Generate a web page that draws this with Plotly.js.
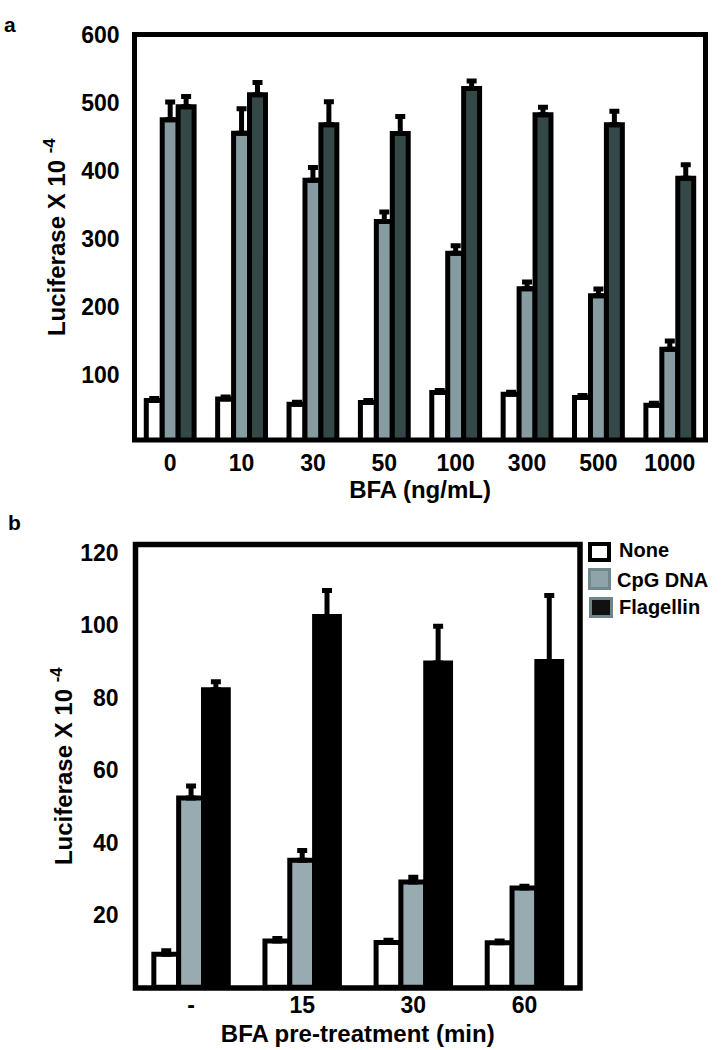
<!DOCTYPE html>
<html>
<head>
<meta charset="utf-8">
<script src="https://cdn.plot.ly/plotly-3.0.1.min.js"></script>
<style>
  html, body { margin: 0; padding: 0; background: #ffffff; }
  #chart { width: 723px; height: 1050px; }
</style>
</head>
<body>
<div id="chart"></div>
<script>
// ---------- Panel a : BFA dose ----------
const catsA = ['0', '10', '30', '50', '100', '300', '500', '1000'];
const noneA = [63, 65, 57.5, 60, 74.7, 72.2, 67.4, 56];
const noneErrA = [3, 3, 3, 3, 3, 3, 3, 3];
const cpgA = [475, 455, 386, 325.6, 279, 226.8, 216.6, 138.2];
const cpgErrA = [26, 36, 19, 14, 11, 10, 10, 12];
const flaA = [494, 511.5, 467.5, 454.7, 520.8, 482.2, 467.5, 389];
const flaErrA = [15, 18, 34, 25, 11, 11, 20, 20];
const zerosA = [0, 0, 0, 0, 0, 0, 0, 0];
const yTicksA = [100, 200, 300, 400, 500, 600];

// ---------- Panel b : BFA pre-treatment ----------
const catsB = ['-', '15', '30', '60'];
const noneB = [9.1, 12.8, 12.4, 12.3];
const noneErrB = [1.0, 0.7, 0.6, 0.5];
const cpgB = [52.3, 35.1, 29.1, 27.4];
const cpgErrB = [3.3, 2.7, 1.3, 0.5];
const flaB = [82.2, 102.4, 89.6, 90.0];
const flaErrB = [2.2, 7.2, 10.1, 18.2];
const zerosB = [0, 0, 0, 0];
const yTicksB = [20, 40, 60, 80, 100, 120];

const legendNames = ['None', 'CpG DNA', 'Flagellin'];

const FAM = 'Liberation Sans, Arial, Helvetica, sans-serif';
const W = 723, H = 1050;
const px = v => v / W;
const py = v => 1 - v / H;

function bar(x, y, err, minus, fill, lineColor, lw, xa, ya, name) {
  return {
    type: 'bar', x: x, y: y, name: name, xaxis: xa, yaxis: ya,
    marker: { color: fill, line: { color: lineColor, width: lw } },
    error_y: { type: 'data', array: err, arrayminus: minus, symmetric: false,
               color: '#000', thickness: 5, width: 5 },
    showlegend: false, hoverinfo: 'skip'
  };
}

const traces = [
  bar(catsA, noneA, noneErrA, zerosA, '#ffffff', '#000', 5, 'x', 'y', legendNames[0]),
  bar(catsA, cpgA, cpgErrA, zerosA, '#869ca1', '#000', 5, 'x', 'y', legendNames[1]),
  bar(catsA, flaA, flaErrA, zerosA, '#354848', '#000', 5, 'x', 'y', legendNames[2]),
  bar(catsB, noneB, noneErrB, zerosB, '#ffffff', '#000', 5, 'x2', 'y2', legendNames[0]),
  bar(catsB, cpgB, cpgErrB, zerosB, '#97abb0', '#000', 5, 'x2', 'y2', legendNames[1]),
  bar(catsB, flaB, flaErrB, zerosB, '#000000', '#000', 5, 'x2', 'y2', legendNames[2])
];

const tickFont = { family: FAM, size: 23, weight: 'bold', color: '#000' };
const xTitleFont = { family: FAM, size: 24, weight: 'bold', color: '#000' };
const yTitleFont = { family: FAM, size: 24, weight: 'bold', color: '#000' };

const baseAxis = { showgrid: false, zeroline: false, showline: false, ticks: '',
                   automargin: false, fixedrange: true, tickfont: tickFont };

const layout = {
  width: W, height: H,
  margin: { l: 0, r: 0, t: 0, b: 0 },
  paper_bgcolor: '#ffffff', plot_bgcolor: '#ffffff',
  showlegend: false,
  barmode: 'group', bargap: 0.33, bargroupgap: 0,
  font: { family: FAM, color: '#000' },
  xaxis: Object.assign({}, baseAxis, {
    domain: [px(134.5), px(705.5)], anchor: 'y', type: 'category',
    range: [-0.5, 7.5], ticklabelstandoff: 7,
    title: { text: 'BFA (ng/mL)', font: xTitleFont, standoff: 6 }
  }),
  yaxis: Object.assign({}, baseAxis, {
    domain: [py(440), py(34.5)], anchor: 'x', range: [5, 600],
    tickmode: 'array', tickvals: yTicksA, ticktext: yTicksA.map(String),
    ticklabelstandoff: 14,
    title: { text: 'Luciferase X 10 <sup>-4</sup>', font: yTitleFont, standoff: 8 }
  }),
  xaxis2: Object.assign({}, baseAxis, {
    domain: [px(135.5), px(580)], anchor: 'y2', type: 'category',
    range: [-0.5, 3.5], ticklabelstandoff: 1,
    title: { text: 'BFA pre-treatment (min)', font: xTitleFont, standoff: 8 }
  }),
  yaxis2: Object.assign({}, baseAxis, {
    domain: [py(988), py(544.5)], anchor: 'x2', range: [-0.2, 122.3],
    tickmode: 'array', tickvals: yTicksB, ticktext: yTicksB.map(String),
    ticklabelstandoff: 16,
    title: { text: 'Luciferase X 10 <sup>-4</sup>', font: yTitleFont, standoff: 0 }
  }),
  shapes: [
    { type: 'rect', xref: 'x domain', yref: 'y domain', x0: 0, x1: 1, y0: 0, y1: 1,
      line: { color: '#000', width: 5 }, fillcolor: 'rgba(0,0,0,0)', layer: 'above' },
    { type: 'rect', xref: 'x2 domain', yref: 'y2 domain', x0: 0, x1: 1, y0: 0, y1: 1,
      line: { color: '#000', width: 5.5 }, fillcolor: 'rgba(0,0,0,0)', layer: 'above' },
    // legend keys (panel b)
    { type: 'rect', xref: 'paper', yref: 'paper', x0: px(590), x1: px(609), y0: py(560), y1: py(544),
      line: { color: '#000', width: 4 }, fillcolor: '#ffffff' },
    { type: 'rect', xref: 'paper', yref: 'paper', x0: px(589.5), x1: px(609.5), y0: py(588.5), y1: py(569.5),
      line: { color: '#71878b', width: 3 }, fillcolor: '#8fa4a8' },
    { type: 'rect', xref: 'paper', yref: 'paper', x0: px(590.5), x1: px(611.5), y0: py(616.5), y1: py(598.5),
      line: { color: '#6f8589', width: 3 }, fillcolor: '#111111' }
  ],
  annotations: [
    { text: 'a', xref: 'paper', yref: 'paper', x: px(2), y: py(24), xanchor: 'left', yanchor: 'middle',
      showarrow: false, font: { family: FAM, size: 21, weight: 'bold', color: '#000' } },
    { text: 'b', xref: 'paper', yref: 'paper', x: px(6), y: py(522), xanchor: 'left', yanchor: 'middle',
      showarrow: false, font: { family: FAM, size: 21, weight: 'bold', color: '#000' } },
    { text: legendNames[0], xref: 'paper', yref: 'paper', x: px(617), y: py(550), xanchor: 'left', yanchor: 'middle',
      showarrow: false, font: { family: FAM, size: 20, weight: 'bold', color: '#000' } },
    { text: legendNames[1], xref: 'paper', yref: 'paper', x: px(615), y: py(580), xanchor: 'left', yanchor: 'middle',
      showarrow: false, font: { family: FAM, size: 20, weight: 'bold', color: '#000' } },
    { text: legendNames[2], xref: 'paper', yref: 'paper', x: px(617), y: py(607), xanchor: 'left', yanchor: 'middle',
      showarrow: false, font: { family: FAM, size: 20, weight: 'bold', color: '#000' } }
  ]
};

Plotly.newPlot('chart', traces, layout, { staticPlot: true, displayModeBar: false });
</script>
</body>
</html>
